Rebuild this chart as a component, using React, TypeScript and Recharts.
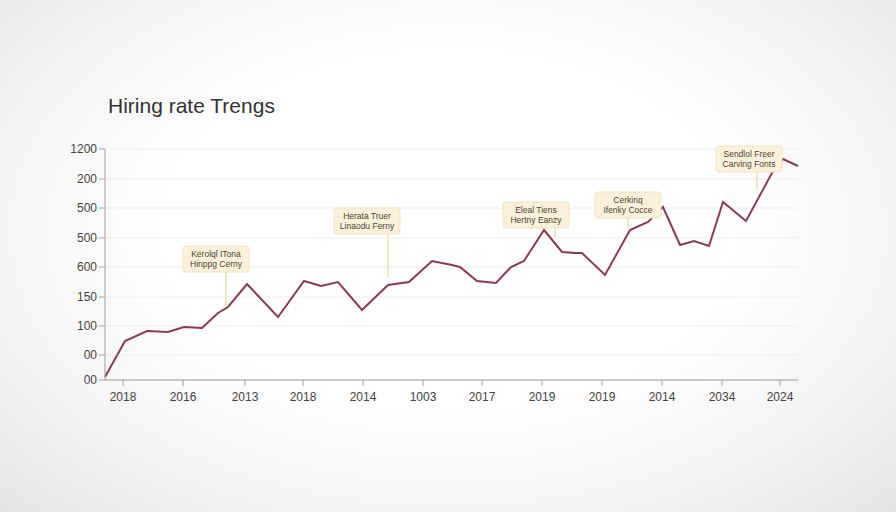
import React from 'react';
import { LineChart, Line, XAxis, YAxis, CartesianGrid, ReferenceDot } from 'recharts';

// positions along the time axis and the hiring rate
const timePos = [0, 20, 42, 63, 79, 97, 113, 123, 142, 173, 199, 216, 233, 257, 283, 304, 327, 347, 355, 372, 391, 406, 419, 439, 457, 470, 477, 500, 525, 543, 558, 575, 589, 604, 618, 641, 667, 678, 693];
const hiringRate = [3, 39, 49, 48, 53, 52, 67, 73, 96, 63, 99, 94, 98, 70, 95, 98, 119, 115, 113, 99, 97, 113, 119, 150, 128, 127, 127, 105, 150, 158, 173, 135, 139, 134, 178, 159, 207, 221, 214];

const xTicks = [18, 78, 140, 198, 258, 318, 377, 437, 497, 557, 617, 675];
const xLabels = ['2018', '2016', '2013', '2018', '2014', '1003', '2017', '2019', '2019', '2014', '2034', '2024'];
const yTicks = [0, 25, 54, 83, 113, 142, 172, 201, 231];
const yLabels = ['00', '00', '100', '150', '600', '500', '500', '200', '1200'];

const noteX = [121, 283, 450, 523, 652];
const noteY = [75, 103, 142, 152, 190];
const noteLines = [
  ['Kerolql ITona', 'Hinppg Cerny'],
  ['Herata Truer', 'Linaodu Ferny'],
  ['Eleal Tiens', 'Hertny Eanzy'],
  ['Cerkinq', 'Ifenky Cocce'],
  ['Sendlol Freer', 'Carving Fonts'],
];
const noteLead = [33, 43, 10, 10, 18];
const noteShift = [-10, -21, -19, 0, -8];

const data = timePos.map((t, i) => ({ t, rate: hiringRate[i] }));

const noteShape = (idx: number) => (props: any) => {
  const { cx, cy } = props;
  const w = 66;
  const h = 26;
  const bx = cx + noteShift[idx] - w / 2;
  const by = cy - noteLead[idx] - h;
  return (
    <g>
      <line x1={cx} y1={cy} x2={cx} y2={cy - noteLead[idx]} stroke="#f1dfb0" strokeWidth={1.5} />
      <rect x={bx} y={by} width={w} height={h} rx={3} fill="#fbf1da" stroke="#f3e4c2" />
      {noteLines[idx].map((s, k) => (
        <text key={k} x={bx + w / 2} y={by + 11 + k * 10} textAnchor="middle" fontSize={8.5} fill="#4e4433" fontFamily="Liberation Sans, Arial, sans-serif">
          {s}
        </text>
      ))}
    </g>
  );
};

export default function App() {
  return (
    <div
      style={{
        position: 'absolute',
        left: 0,
        top: 0,
        width: 896,
        height: 512,
        background: 'radial-gradient(ellipse at 50% 45%, #ffffff 45%, #f3f3f3 75%, #e4e4e4 100%)',
        fontFamily: 'Liberation Sans, Arial, sans-serif',
      }}
    >
      <div style={{ position: 'absolute', left: 108, top: 94, fontSize: 21, color: '#333333' }}>Hiring rate Trengs</div>
      <LineChart width={896} height={512} data={data} margin={{ top: 149, right: 98, left: 0, bottom: 102 }}>
        <CartesianGrid vertical={false} stroke="#ededed" />
        <XAxis
          dataKey="t"
          type="number"
          domain={[0, 693]}
          ticks={xTicks}
          tickFormatter={(v) => xLabels[xTicks.indexOf(v)] ?? ''}
          stroke="#a0a0a0"
          tick={{ fill: '#444444', fontSize: 12, dy: 4 }}
          tickSize={6}
          height={30}
        />
        <YAxis
          type="number"
          domain={[0, 231]}
          ticks={yTicks}
          tickFormatter={(v) => yLabels[yTicks.indexOf(v)] ?? ''}
          stroke="#a0a0a0"
          tick={{ fill: '#444444', fontSize: 12 }}
          tickSize={6}
          width={105}
        />
        <Line type="linear" dataKey="rate" stroke="#8b3b4d" strokeWidth={2} dot={false} isAnimationActive={false} />
        {noteX.map((x, i) => (
          <ReferenceDot key={i} x={x} y={noteY[i]} r={0} shape={noteShape(i)} ifOverflow="visible" />
        ))}
      </LineChart>
    </div>
  );
}
